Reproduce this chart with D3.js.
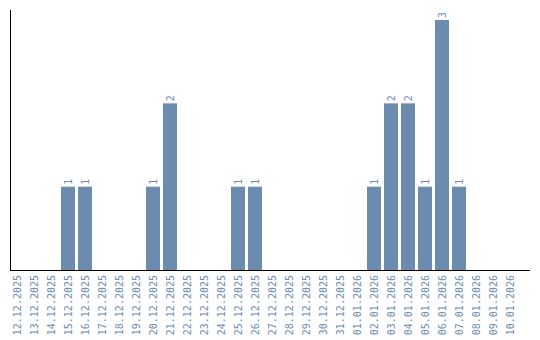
<!DOCTYPE html>
<html>
<head>
<meta charset="utf-8">
<script src="https://cdn.jsdelivr.net/npm/d3@7"></script>
<style>
  body { margin: 0; background: #fff; }
  text { font-family: "DejaVu Sans Mono", monospace; }
</style>
</head>
<body>
<div id="chart"></div>
<script>
// one entry per day
var days = ["12.12.2025", "13.12.2025", "14.12.2025", "15.12.2025", "16.12.2025",
    "17.12.2025", "18.12.2025", "19.12.2025", "20.12.2025", "21.12.2025",
    "22.12.2025", "23.12.2025", "24.12.2025", "25.12.2025", "26.12.2025",
    "27.12.2025", "28.12.2025", "29.12.2025", "30.12.2025", "31.12.2025",
    "01.01.2026", "02.01.2026", "03.01.2026", "04.01.2026", "05.01.2026",
    "06.01.2026", "07.01.2026", "08.01.2026", "09.01.2026", "10.01.2026"];
var counts = [0, 0, 0, 1, 1, 0, 0, 0, 1, 2,
    0, 0, 0, 1, 1, 0, 0, 0, 0, 0,
    0, 1, 2, 2, 1, 3, 1, 0, 0, 0];

var width = 540, height = 340;
var barColor = "#6b8cae";

var svg = d3.select("#chart")
    .append("svg")
    .attr("width", width)
    .attr("height", height);

var x = d3.scaleBand()
    .domain(days)
    .range([10, 517])
    .paddingInner(3 / 17)
    .paddingOuter(0);

var y = d3.scaleLinear()
    .domain([0, 3])
    .range([270, 20]);

var data = days.map(function(d, i) { return {day: d, value: counts[i]}; });

// bars
svg.selectAll("rect.bar")
    .data(data.filter(function(d) { return d.value > 0; }))
    .enter()
    .append("rect")
    .attr("class", "bar")
    .attr("x", function(d) { return x(d.day); })
    .attr("y", function(d) { return y(d.value); })
    .attr("width", x.bandwidth())
    .attr("height", function(d) { return y(0) - y(d.value); })
    .attr("fill", barColor);

// value labels, rotated
svg.selectAll("text.val")
    .data(data.filter(function(d) { return d.value > 0; }))
    .enter()
    .append("text")
    .attr("class", "val")
    .attr("transform", function(d) {
        return "translate(" + (x(d.day) + x.bandwidth() / 2 + 3.5) + "," + (y(d.value) - 2) + ") rotate(-90)";
    })
    .style("font-size", "10px")
    .attr("fill", barColor)
    .text(function(d) { return d.value; });

// x axis
var xAxis = svg.append("g")
    .attr("transform", "translate(0,270)")
    .call(d3.axisBottom(x).tickSize(0).tickPadding(0));
xAxis.select(".domain").remove();
xAxis.selectAll("text")
    .attr("fill", barColor)
    .style("font-size", "10px")
    .style("font-family", "DejaVu Sans Mono, monospace")
    .attr("text-anchor", "end")
    .attr("dy", "0.35em")
    .attr("transform", "translate(0,5) rotate(-90)")
    .attr("y", 0)
    .attr("x", 0);

// axis lines
svg.append("line")
    .attr("x1", 10.5).attr("x2", 10.5)
    .attr("y1", 10).attr("y2", 270)
    .attr("stroke", "black");
svg.append("line")
    .attr("x1", 10).attr("x2", 530)
    .attr("y1", 270.5).attr("y2", 270.5)
    .attr("stroke", "black");
</script>
</body>
</html>
